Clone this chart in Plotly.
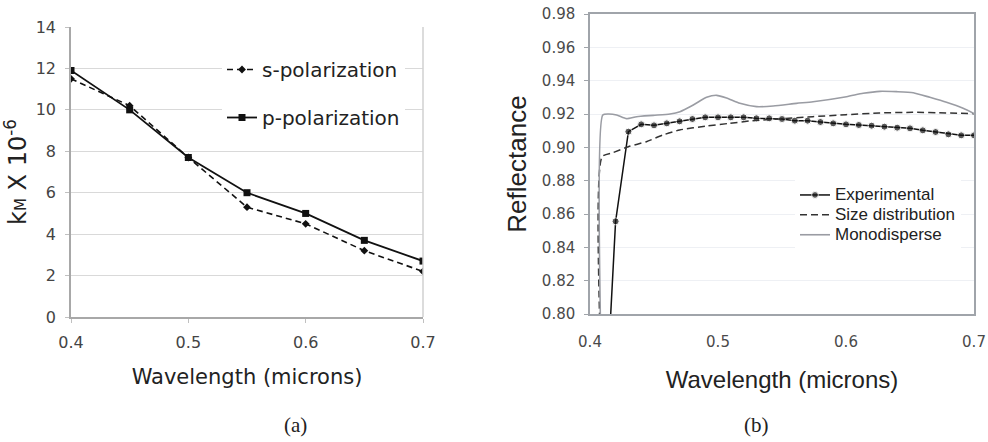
import plotly.graph_objects as go

# ---------------- Panel (a) data ----------------
wl_a = [0.40, 0.45, 0.50, 0.55, 0.60, 0.65, 0.70]
s_pol = [11.5, 10.2, 7.7, 5.3, 4.5, 3.2, 2.2]
p_pol = [11.9, 10.0, 7.7, 6.0, 5.0, 3.7, 2.7]

# ---------------- Panel (b) data ----------------
wl_exp = [0.4155, 0.42, 0.43, 0.44, 0.45, 0.46, 0.47, 0.48, 0.49, 0.50, 0.51,
          0.52, 0.53, 0.54, 0.55, 0.56, 0.57, 0.58, 0.59, 0.60, 0.61, 0.62,
          0.63, 0.64, 0.65, 0.66, 0.67, 0.68, 0.69, 0.70]
refl_exp = [0.79, 0.8556, 0.9094, 0.9138, 0.9132, 0.9144, 0.9156, 0.9170,
            0.9180, 0.9180, 0.9180, 0.9180, 0.9174, 0.9174, 0.9170, 0.9160,
            0.9160, 0.9152, 0.9144, 0.9138, 0.9134, 0.9130, 0.9124, 0.9118,
            0.9114, 0.9102, 0.9092, 0.9078, 0.9072, 0.9072]
exp_marker_sizes = [0] + [7] * 29

wl_size = [0.4078, 0.4095, 0.418, 0.430, 0.444, 0.457, 0.470, 0.491, 0.509,
           0.527, 0.548, 0.574, 0.600, 0.626, 0.652, 0.678, 0.700]
refl_size = [0.79, 0.8944, 0.8968, 0.9004, 0.9034, 0.9074, 0.9104, 0.9128,
             0.9144, 0.9160, 0.9170, 0.9184, 0.9196, 0.9206, 0.9210, 0.9206,
             0.9202]

wl_mono = [0.4083, 0.4100, 0.4143, 0.4208, 0.4286, 0.4364, 0.4494, 0.4625,
           0.4703, 0.4807, 0.4911, 0.4989, 0.5067, 0.5171, 0.5301, 0.5431,
           0.5613, 0.5743, 0.6004, 0.6134, 0.6265, 0.6395, 0.6525, 0.6655,
           0.6785, 0.6915, 0.7000]
refl_mono = [0.79, 0.9194, 0.9200, 0.9194, 0.9172, 0.9184, 0.9192, 0.9200,
             0.9214, 0.9254, 0.9300, 0.9312, 0.9296, 0.9264, 0.9244, 0.9248,
             0.9264, 0.9274, 0.9304, 0.9324, 0.9336, 0.9334, 0.9328, 0.9300,
             0.9270, 0.9234, 0.9202]

W, H = 988, 442


def big(label):
    # legend text drawn at 17px while the legend rows keep a tighter spacing
    return "<span style='font-size:17px'>" + label + "</span>"


fig = go.Figure()

fig.add_trace(go.Scatter(
    x=wl_a, y=s_pol, name="s-polarization", mode="lines+markers",
    line=dict(color="#111111", width=1.6, dash="6px,4px"),
    marker=dict(symbol="diamond", size=6, color="#111111"),
    xaxis="x", yaxis="y", legend="legend", legendgroup="s"))
fig.add_trace(go.Scatter(
    x=wl_a, y=p_pol, name="p-polarization", mode="lines+markers",
    line=dict(color="#111111", width=1.8),
    marker=dict(symbol="square", size=7, color="#111111"),
    xaxis="x", yaxis="y", legend="legend", legendgroup="p"))

fig.add_trace(go.Scatter(
    x=wl_exp, y=refl_exp, name=big("Experimental"), mode="lines+markers",
    line=dict(color="#111111", width=1.5),
    marker=dict(size=exp_marker_sizes, color="#111111"),
    xaxis="x2", yaxis="y2", legend="legend2"))
fig.add_trace(go.Scatter(
    x=wl_size, y=refl_size, name=big("Size distribution"), mode="lines",
    line=dict(color="#333333", width=1.5, dash="7px,4px", shape="spline",
              smoothing=0.6),
    xaxis="x2", yaxis="y2", legend="legend2"))
fig.add_trace(go.Scatter(
    x=wl_mono, y=refl_mono, name=big("Monodisperse"), mode="lines",
    line=dict(color="#9a9ca3", width=1.6, shape="spline", smoothing=0.6),
    xaxis="x2", yaxis="y2", legend="legend2"))

tick_a = dict(family="DejaVu Sans", size=16, color="#444444")
tick_b = dict(family="DejaVu Sans", size=15, color="#4a4a4a")

fig.update_layout(
    width=W, height=H,
    margin=dict(l=0, r=0, t=0, b=0, autoexpand=False),
    paper_bgcolor="white", plot_bgcolor="white",
    showlegend=True,
    xaxis=dict(
        domain=[71 / W, 423 / W], anchor="y", range=[0.4, 0.7],
        automargin=False,
        tickvals=[0.4, 0.5, 0.6, 0.7], ticktext=["0.4", "0.5", "0.6", "0.7"],
        showgrid=False, zeroline=False, showline=True, linecolor="#a8a8a8",
        linewidth=2, ticks="outside", ticklen=4, tickcolor="#c0c0c0",
        tickfont=tick_a, ticklabelstandoff=6,
        title=dict(text="Wavelength (microns)",
                   font=dict(family="DejaVu Sans", size=21, color="#222222"),
                   standoff=18)),
    yaxis=dict(
        domain=[1 - 317 / H, 1 - 27 / H], anchor="x", range=[0, 14],
        automargin=False,
        tickvals=[0, 2, 4, 6, 8, 10, 12, 14], showgrid=True,
        gridcolor="#d9d9d9", gridwidth=1, zeroline=False, showline=True,
        linecolor="#a8a8a8", linewidth=1.5, ticks="outside", ticklen=4,
        tickcolor="#c0c0c0", tickfont=tick_a, ticklabelstandoff=6,
        title=dict(text="k<span style='font-size:15px'>M</span> X 10<sup>-6</sup>",
                   font=dict(family="DejaVu Sans", size=24, color="#222222"),
                   standoff=2)),
    xaxis2=dict(
        domain=[590 / W, 974 / W], anchor="y2", range=[0.4, 0.7],
        automargin=False,
        tickvals=[0.4, 0.5, 0.6, 0.7], ticktext=["0.4", "0.5", "0.6", "0.7"],
        showgrid=False, zeroline=False, showline=True, mirror=True,
        linecolor="#a0a4aa", linewidth=1.5, ticks="", tickfont=tick_b,
        ticklabelstandoff=13,
        title=dict(text="Wavelength (microns)",
                   font=dict(family="Liberation Sans", size=24, color="#222222"),
                   standoff=21)),
    yaxis2=dict(
        domain=[1 - 314 / H, 1 - 14 / H], anchor="x2", range=[0.80, 0.98],
        automargin=False,
        tickvals=[0.80, 0.82, 0.84, 0.86, 0.88, 0.90, 0.92, 0.94, 0.96, 0.98],
        tickformat=".2f", showgrid=True, gridcolor="#eef0f4", gridwidth=1,
        zeroline=False, showline=True, mirror=True, linecolor="#a0a4aa",
        linewidth=1.5, ticks="outside", ticklen=4, tickcolor="#a0a4aa",
        tickfont=tick_b, ticklabelstandoff=6,
        title=dict(text="Reflectance",
                   font=dict(family="Liberation Sans", size=26, color="#222222"),
                   standoff=8)),
    legend=dict(
        x=222 / W, y=1 - 50 / H, xanchor="left", yanchor="top",
        bgcolor="rgba(255,255,255,1)", borderwidth=0,
        traceorder="grouped", tracegroupgap=19,
        font=dict(family="DejaVu Sans", size=20, color="#222222")),
    legend2=dict(
        x=795 / W, y=1 - 180 / H, xanchor="left", yanchor="top",
        bgcolor="rgba(255,255,255,1)", borderwidth=0, tracegroupgap=0,
        font=dict(family="Liberation Sans", size=13, color="#222222")),
    annotations=[
        dict(text="(a)", x=295 / W, y=1 - 425 / H, xref="paper", yref="paper",
             showarrow=False, xanchor="center", yanchor="middle",
             font=dict(family="Liberation Serif", size=21, color="#222222")),
        dict(text="(b)", x=756 / W, y=1 - 425 / H, xref="paper", yref="paper",
             showarrow=False, xanchor="center", yanchor="middle",
             font=dict(family="Liberation Serif", size=21, color="#222222")),
    ],
)

# right border of panel (a)
fig.add_shape(type="line", xref="x domain", yref="y domain", x0=1, x1=1,
              y0=0, y1=1, line=dict(color="#d0d0d0", width=1.5))

fig.write_html("out.html",
               config={"displayModeBar": False},
               post_script="document.body.style.margin='0';"
                           "document.body.style.padding='0';")
